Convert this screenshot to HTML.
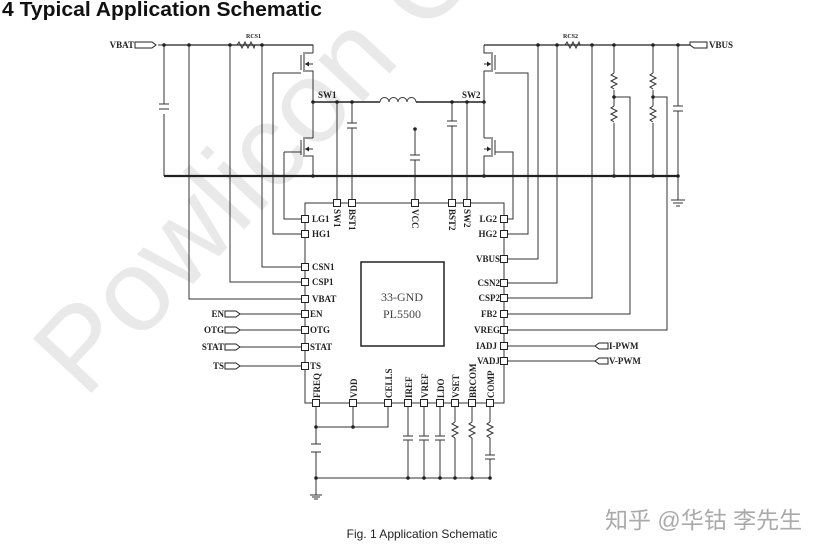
<!DOCTYPE html>
<html><head><meta charset="utf-8"><style>
html,body{margin:0;padding:0;background:#fff;}
svg{display:block}
.t{font-family:"Liberation Serif",serif;font-weight:bold;font-size:9px;fill:#222}
</style></head><body>
<svg width="831" height="552" viewBox="0 0 831 552" xmlns="http://www.w3.org/2000/svg">
<!-- watermark -->
<text x="85" y="400" transform="rotate(-47 85 400)" font-family="Liberation Sans,sans-serif" font-size="116" fill="#e9e9e9">Powlicon C</text>

<text x="2" y="16" font-family="Liberation Sans,sans-serif" font-weight="bold" font-size="20" fill="#111" textLength="320" lengthAdjust="spacingAndGlyphs">4 Typical Application Schematic</text>

<g stroke="#333" stroke-width="1" fill="none">
<path d="M158 45H237M254 45H313V53"/>
<path d="M237 45l2 -3l3 6l3 -6l3 6l3 -6l3 6l1 -3"/>
<path d="M164 45V104M164 114V176"/>
<path d="M159 104h10M159 109h10"/>
<path d="M189 45V299H302"/>
<path d="M230 45V282H302"/>
<path d="M262 45V267H302"/>
<path d="M273 73V234H302"/>
<path d="M284 152V219H302"/>
<path d="M313 53H305M304 52V72M301 55V70M305 71H313V138M305 64H313M273 73H301"/>
<path d="M313 138H305M304 137V157M301 140V155M305 156H313V176M305 149H313M284 152H301"/>
<path d="M313 102H380M416 102H484"/>
<path d="M380 102a4.5 4.5 0 0 1 9 0a4.5 4.5 0 0 1 9 0a4.5 4.5 0 0 1 9 0a4.5 4.5 0 0 1 9 0" />
<path d="M337 102V199"/>
<path d="M352 102V123M352 128V199M347 123h10M347 128h10"/>
<path d="M415 129V155M415 160V199M410 155h10M410 160h10"/>
<path d="M452 102V121M452 126V199M447 121h10M447 126h10"/>
<path d="M467 102V199"/>
<path d="M484 45V53H491M492 52V72M495 55V70M491 71H484V138M484 64H491M495 73H528V234H508"/>
<path d="M484 138H491M492 137V157M495 140V155M491 156H484V176M484 149H491M495 152H513V219H508"/>
<path d="M484 45H565M582 45H690"/>
<path d="M565 45l2 -3l3 6l3 -6l3 6l3 -6l1 3l2 0"/>
<path d="M538 45V259H508M557 45V283H508M592 45V298H508"/>
<path d="M614 45V73M614 90V106M614 123V176"/>
<path d="M614 73l-3 2l6 3l-6 3l6 3l-6 3l3 2M614 106l-3 2l6 3l-6 3l6 3l-6 3l3 2"/>
<path d="M614 97H630V314H508"/>
<path d="M653 45V73M653 90V106M653 123V176"/>
<path d="M653 73l-3 2l6 3l-6 3l6 3l-6 3l3 2M653 106l-3 2l6 3l-6 3l6 3l-6 3l3 2"/>
<path d="M653 97H667V330H508"/>
<path d="M678 45V106M678 111V200M673 106h10M673 111h10"/>
<path d="M671 200h14M673 203h10M676 206h4"/>
<path d="M305 203H504V403H305Z"/>
<path d="M240 314H302M240 330H302M240 347H302M240 366H302"/>
<path d="M508 346H595M508 361H595"/>
<path d="M316 407V444M316 452V478M316 427H353V407M353 427H388V407"/>
<path d="M311 444h10M311 452h10"/>
<path d="M408 407V436M408 440V478M403 436h10M403 440h10"/>
<path d="M424 407V436M424 440V478M419 436h10M419 440h10"/>
<path d="M440 407V436M440 440V478M435 436h10M435 440h10"/>
<path d="M455 407V422M455 438V478M455 422l-3 2l6 3l-6 3l6 3l-6 3l3 2"/>
<path d="M472 407V422M472 438V478M472 422l-3 2l6 3l-6 3l6 3l-6 3l3 2"/>
<path d="M490 407V422M490 438V455M490 459V478M490 422l-3 2l6 3l-6 3l6 3l-6 3l3 2M485 455h10M485 459h10"/>
<path d="M316 478H490M316 478V495M310 495h12M312 497h8M314 499h4"/>
</g>
<path d="M164 176H678" stroke="#222" stroke-width="2.2"/>
<path d="M164 45H313M484 45H690" stroke="#222" stroke-width="1.3" fill="none"/>
<path d="M313 102H380M416 102H484" stroke="#222" stroke-width="1.6" fill="none"/>
<g fill="#222"><path d="M305 64l4 -2.5v5zM305 149l4 -2.5v5zM491 64l-4 -2.5v5zM491 149l-4 -2.5v5z"/></g>
<rect x="361" y="262" width="83" height="84" fill="none" stroke="#222" stroke-width="1.5"/>
<text x="402" y="301" text-anchor="middle" font-family="Liberation Serif,serif" font-size="12" fill="#444">33-GND</text>
<text x="402" y="318" text-anchor="middle" font-family="Liberation Serif,serif" font-size="12" fill="#444">PL5500</text>
<g fill="#222">
<circle cx="164" cy="45" r="1.8"/><circle cx="189" cy="45" r="1.8"/><circle cx="230" cy="45" r="1.8"/><circle cx="262" cy="45" r="1.8"/>
<circle cx="313" cy="102" r="1.8"/><circle cx="337" cy="102" r="1.8"/><circle cx="352" cy="102" r="1.8"/><circle cx="452" cy="102" r="1.8"/><circle cx="467" cy="102" r="1.8"/><circle cx="484" cy="102" r="1.8"/>
<circle cx="415" cy="129" r="1.8"/><circle cx="313" cy="176" r="1.8"/><circle cx="484" cy="176" r="1.8"/>
<circle cx="538" cy="45" r="1.8"/><circle cx="557" cy="45" r="1.8"/><circle cx="592" cy="45" r="1.8"/><circle cx="614" cy="45" r="1.8"/><circle cx="653" cy="45" r="1.8"/><circle cx="678" cy="45" r="1.8"/>
<circle cx="614" cy="97" r="1.8"/><circle cx="653" cy="97" r="1.8"/><circle cx="614" cy="176" r="1.8"/><circle cx="653" cy="176" r="1.8"/><circle cx="678" cy="176" r="1.8"/>
<circle cx="316" cy="427" r="1.8"/><circle cx="353" cy="427" r="1.8"/>
<circle cx="316" cy="478" r="1.8"/><circle cx="408" cy="478" r="1.8"/><circle cx="424" cy="478" r="1.8"/><circle cx="440" cy="478" r="1.8"/><circle cx="455" cy="478" r="1.8"/><circle cx="472" cy="478" r="1.8"/><circle cx="490" cy="478" r="1.8"/>
</g>
<g fill="#fff" stroke="#222" stroke-width="1">
<rect x="301.5" y="215.5" width="7" height="7"/><rect x="301.5" y="230.5" width="7" height="7"/><rect x="301.5" y="263.5" width="7" height="7"/><rect x="301.5" y="278.5" width="7" height="7"/><rect x="301.5" y="295.5" width="7" height="7"/><rect x="301.5" y="310.5" width="7" height="7"/><rect x="301.5" y="326.5" width="7" height="7"/><rect x="301.5" y="343.5" width="7" height="7"/><rect x="301.5" y="362.5" width="7" height="7"/>
<rect x="500.5" y="215.5" width="7" height="7"/><rect x="500.5" y="230.5" width="7" height="7"/><rect x="500.5" y="255.5" width="7" height="7"/><rect x="500.5" y="279.5" width="7" height="7"/><rect x="500.5" y="294.5" width="7" height="7"/><rect x="500.5" y="310.5" width="7" height="7"/><rect x="500.5" y="326.5" width="7" height="7"/><rect x="500.5" y="342.5" width="7" height="7"/><rect x="500.5" y="357.5" width="7" height="7"/>
<rect x="333.5" y="199.5" width="7" height="7"/><rect x="348.5" y="199.5" width="7" height="7"/><rect x="411.5" y="199.5" width="7" height="7"/><rect x="448.5" y="199.5" width="7" height="7"/><rect x="463.5" y="199.5" width="7" height="7"/>
<rect x="312.5" y="399.5" width="7" height="7"/><rect x="349.5" y="399.5" width="7" height="7"/><rect x="384.5" y="399.5" width="7" height="7"/><rect x="404.5" y="399.5" width="7" height="7"/><rect x="420.5" y="399.5" width="7" height="7"/><rect x="436.5" y="399.5" width="7" height="7"/><rect x="451.5" y="399.5" width="7" height="7"/><rect x="468.5" y="399.5" width="7" height="7"/><rect x="486.5" y="399.5" width="7" height="7"/>
<path d="M135 42h17l4 3l-4 3h-17z"/>
<path d="M690 42h4h13v6h-13l-4 -3z"/>
<path d="M225 311h11l4 3l-4 3h-11z"/><path d="M225 327h11l4 3l-4 3h-11z"/><path d="M225 344h11l4 3l-4 3h-11z"/><path d="M225 363h11l4 3l-4 3h-11z"/>
<path d="M595 346l4 -3h9v6h-9z"/><path d="M595 361l4 -3h9v6h-9z"/>
</g>
<g class="t">
<text x="134" y="48" text-anchor="end">VBAT</text>
<text x="709" y="48">VBUS</text>
<text x="246" y="38" font-size="6">RCS1</text>
<text x="563" y="38" font-size="6">RCS2</text>
<text x="318" y="98">SW1</text>
<text x="462" y="98">SW2</text>
<text x="312" y="222">LG1</text><text x="312" y="237">HG1</text><text x="312" y="270">CSN1</text><text x="312" y="285">CSP1</text><text x="312" y="302">VBAT</text><text x="310" y="317">EN</text><text x="310" y="333">OTG</text><text x="310" y="350">STAT</text><text x="310" y="369">TS</text>
<text x="497" y="222" text-anchor="end">LG2</text><text x="497" y="237" text-anchor="end">HG2</text><text x="500" y="262" text-anchor="end">VBUS</text><text x="500" y="286" text-anchor="end">CSN2</text><text x="500" y="301" text-anchor="end">CSP2</text><text x="497" y="317" text-anchor="end">FB2</text><text x="500" y="333" text-anchor="end">VREG</text><text x="497" y="349" text-anchor="end">IADJ</text><text x="500" y="364" text-anchor="end">VADJ</text>
<text x="224" y="317" text-anchor="end">EN</text><text x="224" y="333" text-anchor="end">OTG</text><text x="224" y="350" text-anchor="end">STAT</text><text x="224" y="369" text-anchor="end">TS</text>
<text x="609" y="349">I-PWM</text><text x="609" y="364">V-PWM</text>
<text transform="translate(334 209) rotate(90)">SW1</text>
<text transform="translate(349 209) rotate(90)">BST1</text>
<text transform="translate(412 209) rotate(90)">VCC</text>
<text transform="translate(449 209) rotate(90)">BST2</text>
<text transform="translate(464 209) rotate(90)">SW2</text>
<text transform="translate(320 398) rotate(-90)">FREQ</text>
<text transform="translate(357 398) rotate(-90)">VDD</text>
<text transform="translate(392 398) rotate(-90)">CELLS</text>
<text transform="translate(412 398) rotate(-90)">IREF</text>
<text transform="translate(428 398) rotate(-90)">VREF</text>
<text transform="translate(444 398) rotate(-90)">LDO</text>
<text transform="translate(459 398) rotate(-90)">VSET</text>
<text transform="translate(476 398) rotate(-90)">BRCOM</text>
<text transform="translate(494 398) rotate(-90)">COMP</text>
</g>
<text x="422" y="538" text-anchor="middle" font-family="Liberation Sans,sans-serif" font-size="12" fill="#222">Fig. 1 Application Schematic</text>
<text x="605" y="528" font-family="Liberation Sans,'Noto Sans CJK SC',sans-serif" font-size="23" fill="#aaa">知乎 @华钴 李先生</text>
</svg>
</body></html>
